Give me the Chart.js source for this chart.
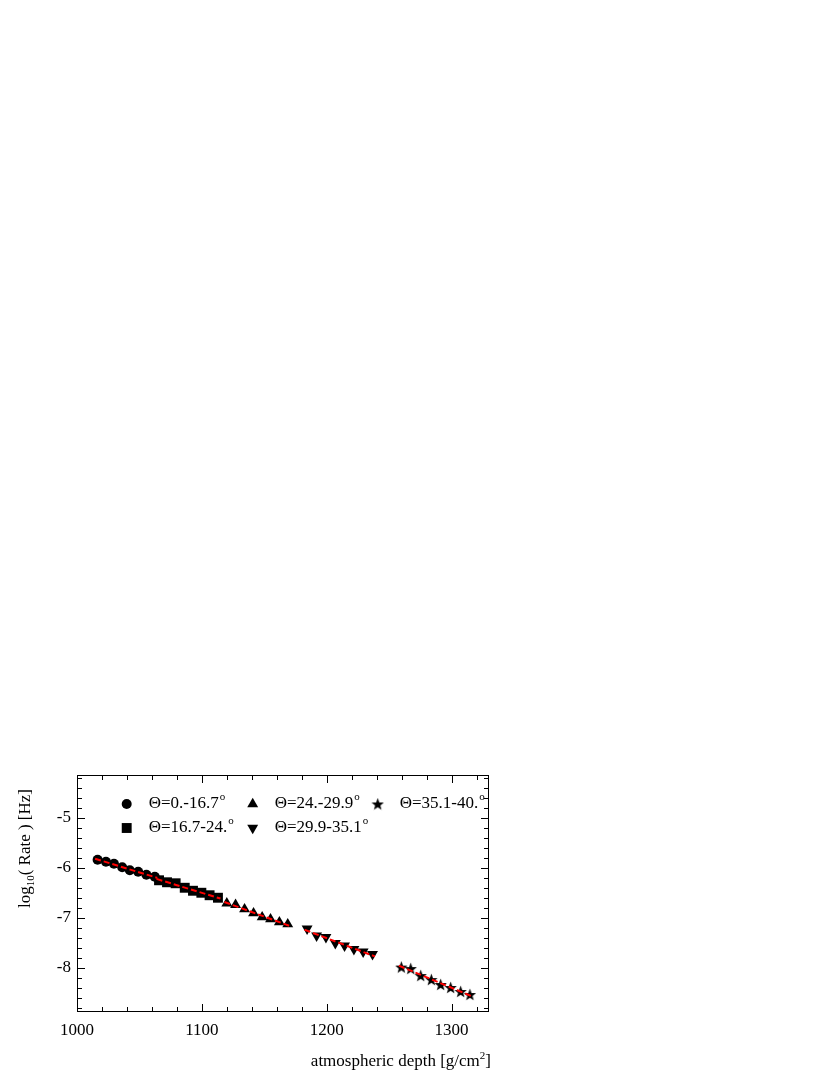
<!DOCTYPE html>
<html lang="en">
<head>
    <meta charset="UTF-8">
    <title>log10(Rate) vs atmospheric depth</title>
    <script src="https://cdn.jsdelivr.net/npm/chart.js"></script>
    <style>
        body { margin: 0; background: #fff; }
        #wrap { width: 830px; height: 1075px; position: relative; }
    </style>
</head>
<body>
<div id="wrap"><canvas id="rateChart"></canvas></div>

<script>
    // values: atmospheric depth [g/cm2] and log10(rate)
    const depth1 = [1016.5, 1023.2, 1029.6, 1036.2, 1042.3, 1049.0, 1055.6, 1062.3];
    const rate1  = [-5.84, -5.88, -5.92, -5.99, -6.05, -6.08, -6.14, -6.18];
    const depth2 = [1065.7, 1072.1, 1079.0, 1086.3, 1092.9, 1099.6, 1106.2, 1112.9];
    const rate2  = [-6.25, -6.29, -6.31, -6.40, -6.46, -6.50, -6.55, -6.60];
    const depth3 = [1120.0, 1127.0, 1134.2, 1141.4, 1148.3, 1155.0, 1162.1, 1168.8];
    const rate3  = [-6.71, -6.74, -6.83, -6.91, -6.99, -7.03, -7.09, -7.13];
    const depth4 = [1184.3, 1191.9, 1199.4, 1206.9, 1214.3, 1221.8, 1229.2, 1236.7];
    const rate4  = [-7.22, -7.36, -7.39, -7.51, -7.56, -7.63, -7.68, -7.73];
    const depth5 = [1259.8, 1267.3, 1275.3, 1283.8, 1291.3, 1299.3, 1307.3, 1314.7];
    const rate5  = [-7.99, -8.02, -8.16, -8.24, -8.34, -8.40, -8.48, -8.54];

    const groupLabels = ['Θ=0.-16.7', 'Θ=16.7-24.', 'Θ=24.-29.9', 'Θ=29.9-35.1', 'Θ=35.1-40.'];
    const xTicks = [1000, 1100, 1200, 1300];
    const yTicks = [-8, -7, -6, -5];

    const serif = '"Liberation Serif", "DejaVu Serif", serif';

    // filled five-pointed star, Chart.js 'star' is only a stroked asterisk
    function makeStar(size) {
        const c = document.createElement('canvas');
        c.width = size; c.height = size;
        const g = c.getContext('2d');
        const R = size / 2, r = R * 0.42;
        g.beginPath();
        for (let i = 0; i < 10; i++) {
            const a = -Math.PI / 2 + i * Math.PI / 5;
            const rr = i % 2 ? r : R;
            g.lineTo(R + rr * Math.cos(a), R + 0.6 + rr * Math.sin(a));
        }
        g.closePath();
        g.fillStyle = '#000';
        g.fill();
        return c;
    }
    const star = makeStar(13);

    const markers = [
        { pointStyle: 'circle', radius: 5, rotation: 0 },
        { pointStyle: 'rect', radius: 7, rotation: 0 },
        { pointStyle: 'triangle', radius: 6.3, rotation: 0 },
        { pointStyle: 'triangle', radius: 6.3, rotation: 180 },
        { pointStyle: star, radius: 6.5, rotation: 0 }
    ];

    const groups = [[depth1, rate1], [depth2, rate2], [depth3, rate3], [depth4, rate4], [depth5, rate5]];

    // straight-line fit through each group (the red dashed lines)
    function fitLine(xs, ys) {
        const n = xs.length;
        const mx = xs.reduce((a, b) => a + b, 0) / n;
        const my = ys.reduce((a, b) => a + b, 0) / n;
        let sxy = 0, sxx = 0;
        for (let i = 0; i < n; i++) {
            sxy += (xs[i] - mx) * (ys[i] - my);
            sxx += (xs[i] - mx) * (xs[i] - mx);
        }
        const b = sxy / sxx, a = my - b * mx;
        const x0 = xs[0] - 2, x1 = xs[n - 1] + 2;
        return [{ x: x0, y: a + b * x0 }, { x: x1, y: a + b * x1 }];
    }

    const datasets = [];
    groups.forEach(([xs, ys], i) => {
        datasets.push({
            label: 'fit ' + (i + 1),
            data: fitLine(xs, ys),
            showLine: true,
            borderColor: '#ff0000',
            borderWidth: 2,
            borderDash: [6, 3],
            pointRadius: 0,
            order: 0
        });
    });
    groups.forEach(([xs, ys], i) => {
        datasets.push({
            label: groupLabels[i],
            data: xs.map((x, k) => ({ x: x, y: ys[k] })),
            showLine: false,
            pointStyle: markers[i].pointStyle,
            pointRadius: markers[i].radius,
            rotation: markers[i].rotation,
            backgroundColor: '#000',
            borderColor: '#000',
            borderWidth: 0,
            order: 1
        });
    });

    // inward major/minor ticks on all four sides, plus the frame
    const frameTicks = {
        id: 'frameTicks',
        afterDatasetsDraw(chart) {
            const { ctx, chartArea: a, scales: { x, y } } = chart;
            ctx.save();
            ctx.strokeStyle = '#000';
            ctx.lineWidth = 1;
            ctx.strokeRect(a.left + 0.5, a.top + 0.5, a.right - a.left - 1, a.bottom - a.top - 1);
            ctx.beginPath();
            for (let v = 1000; v <= 1330; v += 20) {
                const px = Math.round(x.getPixelForValue(v)) + 0.5;
                const len = v % 100 === 0 ? 8 : 5;
                ctx.moveTo(px, a.bottom); ctx.lineTo(px, a.bottom - len);
                ctx.moveTo(px, a.top); ctx.lineTo(px, a.top + len);
            }
            for (let k = -45; k <= -20; k++) {
                const v = k / 5;
                const py = Math.round(y.getPixelForValue(v)) + 0.5;
                if (py < a.top || py > a.bottom) continue;
                const len = k % 5 === 0 ? 8 : 5;
                ctx.moveTo(a.left, py); ctx.lineTo(a.left + len, py);
                ctx.moveTo(a.right, py); ctx.lineTo(a.right - len, py);
            }
            ctx.stroke();
            ctx.restore();
        },
        afterDraw(chart) {
            const { ctx, chartArea: a } = chart;
            ctx.save();
            ctx.fillStyle = '#000';
            ctx.textBaseline = 'middle';

            // legend: two rows, three columns
            const cols = [126.7, 252.7, 377.7];
            const rows = [804, 828];
            const place = [[0, 0], [0, 1], [1, 0], [1, 1], [2, 0]];
            place.forEach(([c, r], i) => {
                const mx = cols[c], my = rows[r];
                Chart.helpers.drawPoint(ctx, {
                    pointStyle: markers[i].pointStyle,
                    radius: markers[i].radius,
                    rotation: markers[i].rotation,
                    borderWidth: 0
                }, mx, my);
                ctx.font = '17px ' + serif;
                ctx.textAlign = 'left';
                const tx = mx + 22;
                ctx.fillText(groupLabels[i], tx, my);
                const w = ctx.measureText(groupLabels[i]).width;
                ctx.font = '11px ' + serif;
                ctx.fillText('o', tx + w + 1, my - 7);
            });

            // x axis title with superscript
            ctx.textBaseline = 'alphabetic';
            const xt1 = 'atmospheric depth [g/cm', xt2 = '2', xt3 = ']';
            ctx.font = '17px ' + serif;
            const w3 = ctx.measureText(xt3).width;
            const w1 = ctx.measureText(xt1).width;
            ctx.font = '11px ' + serif;
            const w2 = ctx.measureText(xt2).width;
            const xEnd = a.right + 2;
            const xBase = 1066;
            ctx.textAlign = 'left';
            ctx.font = '17px ' + serif;
            ctx.fillText(xt1, xEnd - w1 - w2 - w3, xBase);
            ctx.font = '11px ' + serif;
            ctx.fillText(xt2, xEnd - w2 - w3, xBase - 7);
            ctx.font = '17px ' + serif;
            ctx.fillText(xt3, xEnd - w3, xBase);

            // y axis title, rotated, with subscript
            ctx.translate(30, a.top + 14);
            ctx.rotate(-Math.PI / 2);
            const yt1 = 'log', yt2 = '10', yt3 = '( Rate ) [Hz]';
            ctx.font = '17px ' + serif;
            const v1 = ctx.measureText(yt1).width;
            const v3 = ctx.measureText(yt3).width;
            ctx.font = '11px ' + serif;
            const v2 = ctx.measureText(yt2).width;
            const start = -(v1 + v2 + v3);
            ctx.font = '17px ' + serif;
            ctx.fillText(yt1, start, 0);
            ctx.font = '11px ' + serif;
            ctx.fillText(yt2, start + v1, 4);
            ctx.font = '17px ' + serif;
            ctx.fillText(yt3, start + v1 + v2, 0);
            ctx.restore();
        }
    };

    new Chart(document.getElementById('rateChart'), {
        type: 'scatter',
        data: { datasets: datasets },
        options: {
            responsive: true,
            maintainAspectRatio: false,
            animation: false,
            layout: { padding: { left: 0, top: 775, right: 341, bottom: 0 } },
            plugins: {
                legend: { display: false },
                tooltip: { enabled: false }
            },
            scales: {
                x: {
                    type: 'linear',
                    min: 1000,
                    max: 1330,
                    afterFit(s) { s.height = 63; },
                    afterBuildTicks(s) { s.ticks = xTicks.map(v => ({ value: v })); },
                    grid: { display: false, drawTicks: false },
                    border: { display: false },
                    ticks: {
                        color: '#000',
                        padding: 8,
                        font: { family: serif, size: 17 },
                        callback: v => String(v)
                    }
                },
                y: {
                    type: 'linear',
                    min: -8.89,
                    max: -4.14,
                    afterFit(s) { s.width = 77; },
                    afterBuildTicks(s) { s.ticks = yTicks.map(v => ({ value: v })); },
                    grid: { display: false, drawTicks: false },
                    border: { display: false },
                    ticks: {
                        color: '#000',
                        padding: 6,
                        font: { family: serif, size: 17 },
                        callback: v => String(v)
                    }
                }
            }
        },
        plugins: [frameTicks]
    });
</script>
</body>
</html>
